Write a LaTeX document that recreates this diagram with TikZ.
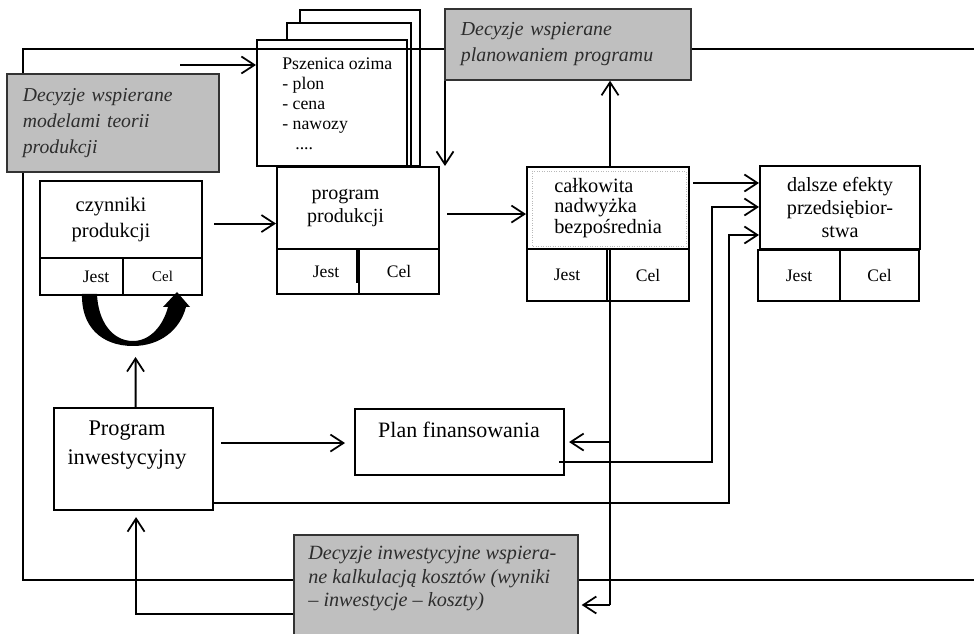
\documentclass[tikz,border=0pt]{standalone}
\usepackage{fontspec}
\setmainfont{Liberation Serif}
\usetikzlibrary{arrows.meta,calc}
\definecolor{panelgray}{RGB}{191,191,191}
\definecolor{inkgray}{RGB}{45,45,45}

\begin{document}
\begin{tikzpicture}[x=0.02cm,y=-0.02cm,
  box/.style={draw, fill=white, line width=1.2pt, inner sep=0pt, anchor=north west},
  gbox/.style={box, fill=panelgray, draw=black!80, line width=1pt, text=inkgray},
  cell/.style={box, font=\fontsize{10}{12}\selectfont},
  link/.style={line width=1.1pt},
  arr/.style={link, -{Straight Barb[length=0.26cm,width=0.34cm,line width=1pt]}},
  gtext/.style={font=\itshape\fontsize{11.2}{14.8}\selectfont},
]
\useasboundingbox (0,0) rectangle (974,634);

% stack of crop sheets
\node[box, line width=1.1pt, minimum width=2.4cm,  minimum height=3.12cm] (P3) at (299,9) {};
\node[box, line width=1.1pt, minimum width=2.48cm, minimum height=2.86cm] (P2) at (286,22) {};
\node[box, line width=1.1pt, minimum width=3.0cm,  minimum height=2.52cm] (P1) at (256,39) {};
\node[anchor=north west, align=left, inner sep=0pt, font=\fontsize{10.1}{11.5}\selectfont]
  (P1text) at (282,57) {Pszenica ozima\\- plon\\- cena\\- nawozy\\\hspace*{0.26cm}....};

% outer feedback loop
\coordinate (loopTR) at (974,49);
\coordinate (loopTL) at (23,49);
\coordinate (loopBL) at (23,580);
\coordinate (loopBR) at (974,580);
\draw[link] (loopTR) -- (loopTL) -- (loopBL) -- (loopBR);

% decision panels
\node[gbox, gtext, minimum width=4.24cm, minimum height=1.96cm, text width=3.6cm,
  inner xsep=0.32cm, align=left] (G1) at (6,73)
  {Decyzje wspierane\\modelami teorii\\produkcji};
\node[gbox, gtext, font=\itshape\fontsize{11.3}{14.8}\selectfont, minimum width=4.92cm,
  minimum height=1.42cm, text width=4.28cm, inner xsep=0.32cm, align=left] (G2) at (444,8)
  {Decyzje wspierane\\planowaniem programu};
\node[gbox, minimum width=5.68cm, minimum height=2.12cm] (G3) at (293,534) {};
\node[anchor=north west, align=left, inner sep=0pt, text=inkgray,
  font=\itshape\fontsize{11.5}{13.4}\selectfont] (G3text) at (308,546)
  {Decyzje inwestycyjne wspiera-\\ne kalkulacją kosztów (wyniki\\– inwestycje – koszty)};

% production factors
\node[box, minimum width=3.24cm, minimum height=1.54cm, align=center,
  font=\fontsize{11.7}{14.8}\selectfont] (C) at (39,180)
  {czynniki\hspace*{0.4cm}\\produkcji\hspace*{0.4cm}};
\node[cell, minimum width=1.66cm, minimum height=0.74cm] (Cj) at (39,257) {\hspace*{0.58cm}Jest};
\node[cell, minimum width=1.58cm, minimum height=0.74cm, font=\fontsize{8.5}{10}\selectfont] (Cc) at (122,257) {Cel};

% production program
\node[box, minimum width=3.24cm, minimum height=1.64cm, align=center,
  font=\fontsize{11.4}{13.1}\selectfont] (PP) at (276,166)
  {program\hspace*{0.5cm}\\produkcji\hspace*{0.5cm}};
\node[cell, minimum width=1.64cm, minimum height=0.9cm] (PPj) at (276,248) {\hspace*{0.32cm}Jest};
\node[cell, minimum width=1.6cm, minimum height=0.9cm] (PPc) at (358,248) {Cel};
\draw[line width=2.4pt] (PPc.north west) ++(0,2) -- ++(0,33);

% gross margin
\node[box, minimum width=3.24cm, minimum height=1.64cm, align=left,
  font=\fontsize{11.6}{11.6}\selectfont] (CN) at (526,166)
  {całkowita\\nadwyżka\\bezpośrednia};
\draw[gray!55, densely dotted, line width=0.4pt] (532,171) rectangle (686,246);
\node[cell, minimum width=1.6cm, minimum height=1.04cm] (CNj) at (526,248) {Jest};
\node[cell, minimum width=1.64cm, minimum height=1.04cm] (CNc) at (606,248) {Cel};

% further effects
\node[box, minimum width=3.2cm, minimum height=1.66cm, align=center,
  font=\fontsize{11.5}{13}\selectfont] (DE) at (759,165) {dalsze efekty\\przedsiębior-\\stwa};
\node[cell, minimum width=1.64cm, minimum height=1.02cm] (DEj) at (757,249) {Jest};
\node[cell, minimum width=1.58cm, minimum height=1.02cm] (DEc) at (839,249) {Cel};

% financing plan and investment program
\node[box, minimum width=4.18cm, minimum height=1.32cm] (PF) at (354,408) {};
\node[font=\fontsize{12.5}{15}\selectfont, inner sep=0pt] (PFtext) at (459,430) {Plan finansowania};
\node[box, minimum width=3.18cm, minimum height=2.04cm] (PI) at (53,407) {};
\node[align=center, inner sep=0pt, font=\fontsize{12.7}{16.5}\selectfont] (PItext) at (127,445)
  {Program\\inwestycyjny};

% connectors
\coordinate (inStart) at (180,65);
\draw[arr] (inStart) -- (inStart -| P1.west);

\draw[arr] ([xshift=0.02cm]G2.south west) -- ([xshift=0.02cm]G2.south west |- PP.north);

\coordinate (cOut) at ($(C.east)+(11,4)$);
\draw[arr] (cOut) -- (cOut -| PP.west);

\coordinate (ppOut) at ($(PP.east)+(7,6)$);
\draw[arr] (ppOut) -- (ppOut -| CN.west);

\draw[arr] ([xshift=0.04cm]CN.north) -- ([xshift=0.04cm]CN.north |- G2.south);

\coordinate (cnOut) at ($(CN.north east)+(3,17)$);
\draw[arr] (cnOut) -- (cnOut -| DE.west);

\coordinate (pfOut) at ($(PF.south east)+(-6,-14)$);
\coordinate (pfBend) at (712,207);
\draw[arr] (pfOut) -| (pfBend) -- (pfBend -| DE.west);

\coordinate (piOut) at ($(PI.south east)+(0,-8)$);
\coordinate (piBend) at (729,235);
\draw[arr] (piOut) -| (piBend) -- (piBend -| DE.west);

\coordinate (cnDown) at ($(CNc.north west)+(4,0)$);
\coordinate (cnFoot) at (610,605);
\draw[link] (cnDown) -- (cnFoot);
\draw[arr] (cnDown |- PF.east) -- ([xshift=0.08cm]PF.east);
\draw[arr] (cnFoot) -- ([xshift=0.06cm]cnFoot -| G3.east);

\coordinate (piRight) at ($(PI.east)+(7,-16)$);
\draw[arr, shorten >=0.18cm] (piRight) -- (piRight -| PF.west);

\coordinate (piUp) at ($(PI.north)+(2,-50)$);
\draw[arr] ([xshift=0.04cm]PI.north) -- (piUp);

\coordinate (g3Left) at ($(G3.north west)+(0,80)$);
\draw[arr] (g3Left) -| ([xshift=0.05cm,yshift=-0.12cm]PI.south);

% thick curved arrow from the actual to the target state
\fill[black] (82,294) .. controls (81,326) and (101,346) .. (133,346)
  .. controls (160,346) and (180,330) .. (186,307)
  -- (190,307) -- (177,292) -- (163,307) -- (168,307)
  .. controls (163,326) and (150,341) .. (133,341)
  .. controls (112,341) and (98,321) .. (97,294) -- cycle;
\end{tikzpicture}
\end{document}
